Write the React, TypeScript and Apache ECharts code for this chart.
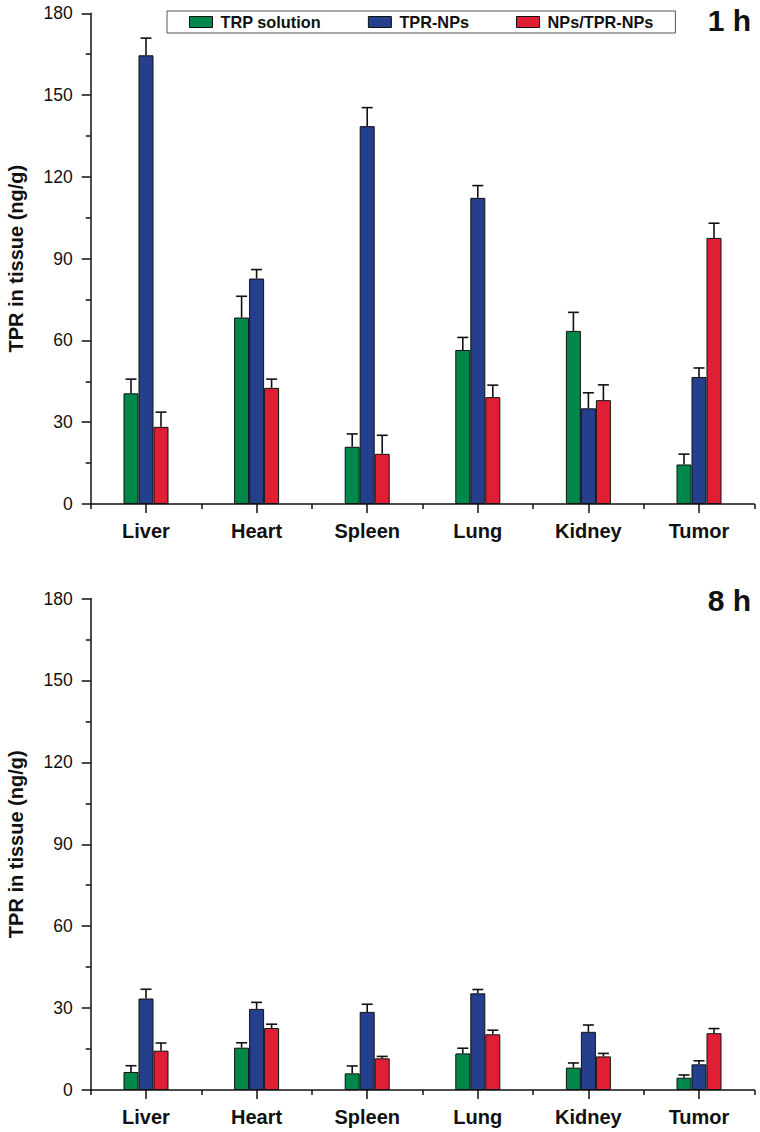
import React, { useEffect, useRef } from "react";
import * as echarts from "echarts";

const categories = ["Liver", "Heart", "Spleen", "Lung", "Kidney", "Tumor"];
const seriesNames = ["TRP solution", "TPR-NPs", "NPs/TPR-NPs"];
const yTicks = [0, 30, 60, 90, 120, 150, 180];

// 1 h
const trp1h = [40.6, 68.4, 21.0, 56.5, 63.5, 14.5];
const trp1hErr = [5.2, 7.8, 4.7, 4.6, 6.8, 3.8];
const tprNps1h = [164.6, 82.7, 138.6, 112.3, 35.1, 46.6];
const tprNps1hErr = [6.3, 3.3, 6.8, 4.5, 5.7, 3.3];
const nps1h = [28.3, 42.6, 18.4, 39.2, 38.1, 97.6];
const nps1hErr = [5.4, 3.2, 6.8, 4.4, 5.6, 5.4];

// 8 h
const trp8h = [6.6, 15.5, 6.1, 13.4, 8.2, 4.5];
const trp8hErr = [2.3, 1.8, 2.7, 1.9, 1.7, 1.0];
const tprNps8h = [33.5, 29.7, 28.6, 35.4, 21.3, 9.4];
const tprNps8hErr = [3.4, 2.4, 2.8, 1.4, 2.5, 1.3];
const nps8h = [14.4, 22.7, 11.6, 20.4, 12.3, 20.8];
const nps8hErr = [2.8, 1.4, 0.7, 1.5, 1.1, 1.7];

const panelLabels = ["1 h", "8 h"];

const colors = ["#00884a", "#243f8b", "#e01f35"];
const FONT = "'Liberation Sans', Arial, Helvetica, sans-serif";
const BAR_W = 15;

export default function App() {
  const ref = useRef<HTMLDivElement>(null);

  useEffect(() => {
    if (!ref.current) return;
    const chart = echarts.init(ref.current, null, { renderer: "svg" });

    const panels = [
      { vals: [trp1h, tprNps1h, nps1h], errs: [trp1hErr, tprNps1hErr, nps1hErr] },
      { vals: [trp8h, tprNps8h, nps8h], errs: [trp8hErr, tprNps8hErr, nps8hErr] },
    ];

    const grids = [
      { left: 90.7, top: 13.3, width: 663.6, height: 490.7 },
      { left: 90.7, top: 598.5, width: 663.6, height: 491.5 },
    ];

    const xAxis: any[] = [];
    const yAxis: any[] = [];
    const series: any[] = [];

    panels.forEach((p, gi) => {
      xAxis.push({
        type: "category",
        gridIndex: gi,
        data: categories,
        boundaryGap: true,
        axisLine: { show: true, lineStyle: { color: "#111", width: 1.5 } },
        axisTick: { show: true, alignWithLabel: true, length: 9, lineStyle: { color: "#111", width: 1.5 } },
        axisLabel: { show: true, margin: 17, fontFamily: FONT, fontSize: 20, fontWeight: "bold", color: "#111" },
        splitLine: { show: false },
      });
      xAxis.push({
        type: "category",
        gridIndex: gi,
        data: categories,
        boundaryGap: true,
        position: "bottom",
        axisLine: { show: false },
        axisTick: { show: true, length: 5, lineStyle: { color: "#111", width: 1.5 } },
        axisLabel: { show: false },
        splitLine: { show: false },
      });
      yAxis.push({
        type: "value",
        gridIndex: gi,
        min: yTicks[0],
        max: yTicks[yTicks.length - 1],
        interval: 30,
        name: "TPR in tissue (ng/g)",
        nameLocation: "middle",
        nameGap: 65,
        nameTextStyle: { fontFamily: FONT, fontSize: 20, fontWeight: "bold", color: "#111" },
        axisLine: { show: true, lineStyle: { color: "#111", width: 1.5 } },
        axisTick: { show: true, length: 9, lineStyle: { color: "#111", width: 1.5 } },
        minorTick: { show: true, splitNumber: 2, length: 5, lineStyle: { color: "#111", width: 1.5 } },
        axisLabel: { margin: 18, fontFamily: FONT, fontSize: 17.5, color: "#111" },
        splitLine: { show: false },
        minorSplitLine: { show: false },
      });

      p.vals.forEach((vals, si) => {
        series.push({
          type: "bar",
          name: seriesNames[si],
          xAxisIndex: gi * 2,
          yAxisIndex: gi,
          data: vals,
          barWidth: BAR_W,
          barGap: "0%",
          itemStyle: { color: colors[si], borderColor: "#111", borderWidth: 1 },
          z: 2,
        });
      });

      p.vals.forEach((vals, si) => {
        const data = vals.map((v, i) => [i, v, p.errs[si][i]]);
        series.push({
          type: "custom",
          name: `err-${gi}-${si}`,
          xAxisIndex: gi * 2,
          yAxisIndex: gi,
          data,
          encode: { x: 0, y: 1 },
          z: 5,
          silent: true,
          renderItem: (params: any, api: any) => {
            const idx = api.value(0);
            const v = api.value(1);
            const e = api.value(2);
            const base = api.coord([idx, v]);
            const top = api.coord([idx, v + e]);
            const x = base[0] + (si - 1) * BAR_W;
            const style = { stroke: "#111", lineWidth: 1.6 };
            return {
              type: "group",
              children: [
                { type: "line", shape: { x1: x, y1: base[1], x2: x, y2: top[1] }, style },
                { type: "line", shape: { x1: x - 5.5, y1: top[1], x2: x + 5.5, y2: top[1] }, style },
              ],
            };
          },
        });
      });
    });

    const option: any = {
      animation: false,
      backgroundColor: "#ffffff",
      grid: grids.map((g) => ({ ...g, containLabel: false, outerBoundsMode: "none" })),
      xAxis,
      yAxis,
      series,
      legend: {
        data: seriesNames,
        left: 167,
        top: 11,
        orient: "horizontal",
        icon: "rect",
        itemWidth: 23,
        itemHeight: 11,
        itemGap: 47,
        padding: [3, 22, 3, 22],
        borderColor: "#555",
        borderWidth: 1,
        backgroundColor: "#fff",
        textStyle: {
          fontFamily: FONT,
          fontSize: 16.3,
          fontWeight: "bold",
          color: "#111",
          lineHeight: 16,
          padding: [0, 0, 0, 3],
        },
        itemStyle: { borderColor: "#111", borderWidth: 1 },
        selectedMode: false,
      },
      graphic: [
        {
          type: "text",
          right: 9,
          top: 5,
          style: { text: panelLabels[0], font: `bold 30px ${FONT}`, fill: "#111" },
        },
        {
          type: "text",
          right: 9,
          top: 585,
          style: { text: panelLabels[1], font: `bold 30px ${FONT}`, fill: "#111" },
        },
      ],
    };

    chart.setOption(option);
    return () => chart.dispose();
  }, []);

  return (
    <div
      ref={ref}
      style={{ position: "absolute", left: 0, top: 0, width: 760, height: 1132, background: "#fff" }}
    />
  );
}
